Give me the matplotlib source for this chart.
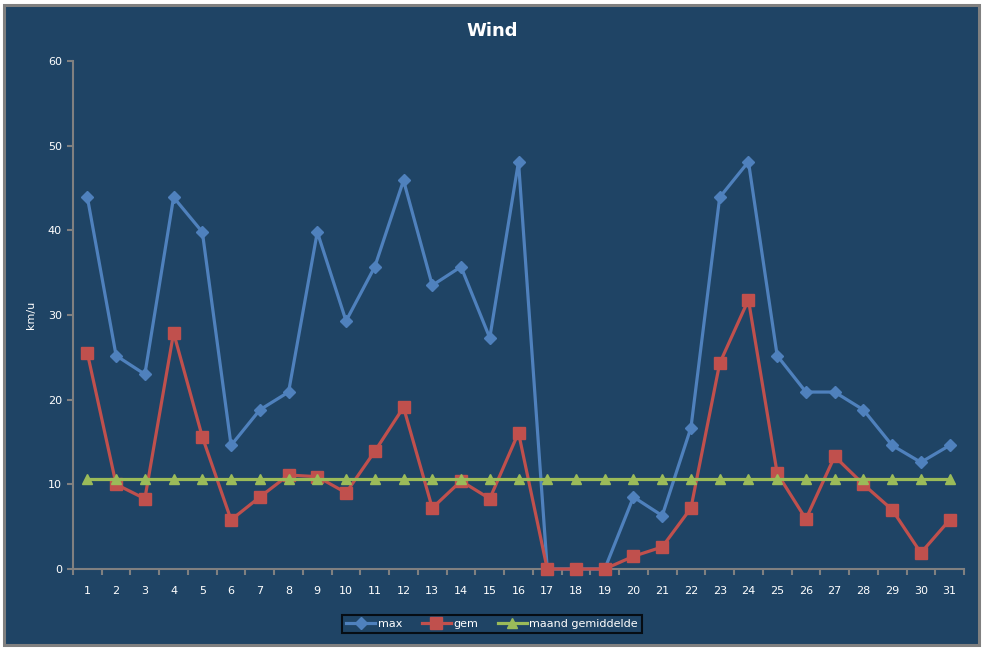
import matplotlib
matplotlib.use("Agg")
import matplotlib.pyplot as plt
from matplotlib.patches import Rectangle

days = list(range(1, 32))
max_wind = [43.9, 25.2, 23.0, 43.9, 39.8, 14.6, 18.8, 20.9, 39.8, 29.3, 35.7, 45.9, 33.5, 35.7, 27.3, 48.1,
            0, 0, 0, 8.5, 6.3, 16.7, 43.9, 48.1, 25.2, 20.9, 20.9, 18.8, 14.6, 12.6, 14.6]
gem_wind = [25.5, 10.0, 8.3, 27.9, 15.6, 5.8, 8.5, 11.1, 10.9, 9.0, 13.9, 19.1, 7.2, 10.4, 8.3, 16.1,
            0, 0, 0, 1.5, 2.6, 7.2, 24.3, 31.8, 11.3, 5.9, 13.3, 10.0, 7.0, 1.9, 5.8]
maand_gem = [10.6] * 31
y_ticks = [0, 10, 20, 30, 40, 50, 60]

bg = '#1F4465'
grey = '#808080'
W, H = 987, 648
fig = plt.figure(figsize=(W / 100, H / 100), dpi=100)
fig.patch.set_facecolor('white')
# chart area with grey border
fig.patches.append(Rectangle((4.5 / W, (H - 645) / H), (979 - 4.5) / W, (645 - 4.5) / H,
                             transform=fig.transFigure, facecolor=bg, edgecolor=grey, linewidth=2.2,
                             zorder=-10))

ax = fig.add_axes([73 / W, (H - 569) / H, (964 - 73) / W, (569 - 61) / H])
ax.set_zorder(5)
ax.set_facecolor(bg)
ax.patch.set_alpha(0)

ax.plot(days, max_wind, color='#4F81BD', lw=2.3, marker='D', ms=6.5, label='max', zorder=3, clip_on=False)
ax.plot(days, gem_wind, color='#C0504D', lw=2.3, marker='s', ms=8, label='gem', zorder=4, clip_on=False)
ax.plot(days, maand_gem, color='#9BBB59', lw=2.3, marker='^', ms=7.5, label='maand gemiddelde', zorder=5,
        clip_on=False)

ax.set_xlim(0.5, 31.5)
ax.set_ylim(0, 60)
ax.set_yticks(y_ticks)
ax.set_xticks(days)
ax.set_xticks([d + 0.5 for d in range(0, 32)], minor=True)
for s in ['top', 'right']:
    ax.spines[s].set_visible(False)
for s in ['left', 'bottom']:
    ax.spines[s].set_color(grey)
    ax.spines[s].set_linewidth(1.5)
ax.tick_params(axis='y', colors=grey, labelcolor='white', labelsize=8, length=4, width=1.5, pad=4)
ax.tick_params(axis='x', which='major', length=0, labelcolor='white', labelsize=8, pad=12)
ax.tick_params(axis='x', which='minor', colors=grey, length=4, width=1.5)

fig.text(492 / W, 1 - 31 / H, 'Wind', color='white', fontsize=13, fontweight='bold',
         ha='center', va='center')
fig.text(31 / W, 1 - 315 / H, 'km/u', color='white', fontsize=8, rotation=90,
         ha='center', va='center')

leg = ax.legend(loc='center', bbox_to_anchor=((492 - 73) / (964 - 73), -(624 - 569) / (569 - 61)),
                ncol=3, frameon=True, fontsize=8, labelcolor='white', handlelength=2.6,
                handletextpad=0.2, columnspacing=1.8, borderpad=0.4, fancybox=False)
leg.get_frame().set_facecolor(bg)
leg.get_frame().set_edgecolor('black')
leg.get_frame().set_linewidth(1.5)

fig.savefig('out.png', dpi=100, facecolor='white')
